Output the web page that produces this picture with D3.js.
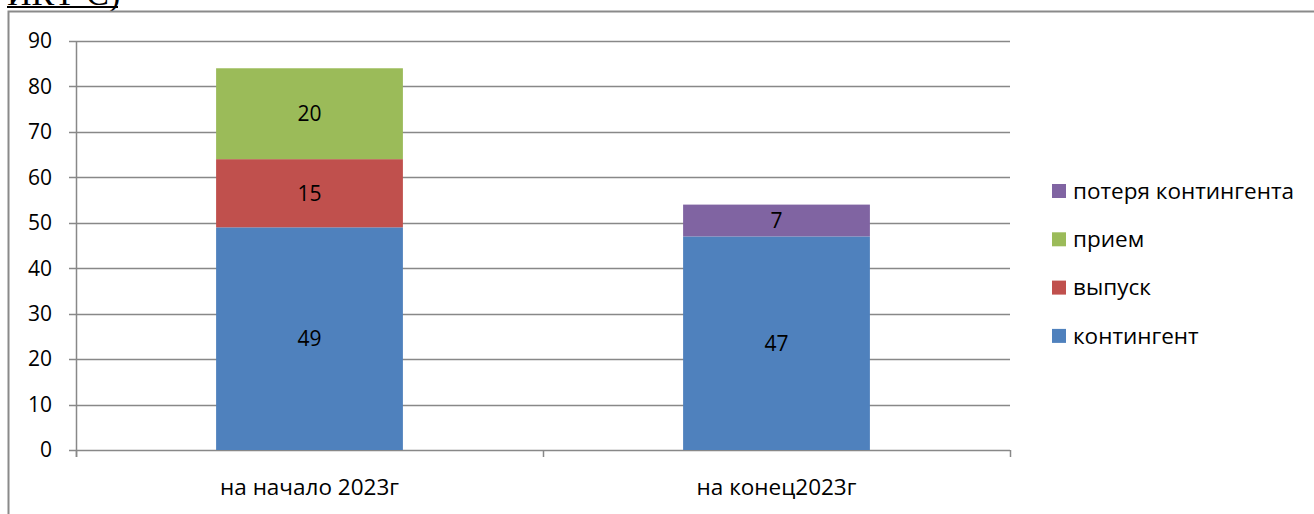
<!DOCTYPE html>
<html>
<head>
<meta charset="utf-8">
<script src="https://cdn.jsdelivr.net/npm/d3@7"></script>
<style>
  body { margin: 0; background: #fff; }
  svg text { font-family: "Open Sans", "Liberation Sans", sans-serif; }
</style>
</head>
<body>
<svg id="chart" width="1314" height="514"></svg>
<script>
// categories and series
const categories = ["на начало 2023г", "на конец2023г"];
const seriesNames = ["контингент", "выпуск", "прием", "потеря контингента"];
const kontingent = [49, 47];
const vypusk = [15, 0];
const priem = [20, 0];
const poterya = [0, 7];
const yTicks = [0, 10, 20, 30, 40, 50, 60, 70, 80, 90];

const colors = ["#4F81BD", "#C0504D", "#9BBB59", "#8064A2"];

const svg = d3.select("#chart");

// chart area
const margin = {left: 76, right: 304, top: 41, bottom: 64};
const width = 1314 - margin.left - margin.right,
      height = 514 - margin.top - margin.bottom;

// cut-off heading from the document above
svg.append("text")
  .attr("x", 7)
  .attr("y", 5)
  .style("font-family", "'Liberation Serif', serif")
  .attr("font-size", 34)
  .text("ИКТ-С)");
svg.append("line")
  .attr("x1", 7).attr("x2", 118)
  .attr("y1", 7).attr("y2", 7)
  .attr("stroke", "#000").attr("stroke-width", 2);

// outer frame
svg.append("path")
  .attr("d", "M8.5,514 L8.5,11.5 L1314,11.5")
  .attr("fill", "none")
  .attr("stroke", "#8a8a8a")
  .attr("stroke-width", 2);

const table = categories.map((c, i) => ({
  cat: c,
  "контингент": kontingent[i],
  "выпуск": vypusk[i],
  "прием": priem[i],
  "потеря контингента": poterya[i]
}));

const stacked = d3.stack().keys(seriesNames)(table);

const x = d3.scaleBand()
  .domain(categories)
  .range([0, width])
  .paddingInner(0.6)
  .paddingOuter(0.3);

const y = d3.scaleLinear()
  .domain([0, 90])
  .range([height, 0]);

const color = d3.scaleOrdinal().domain(seriesNames).range(colors);

const g = svg.append("g")
  .attr("transform", "translate(" + margin.left + "," + margin.top + ")");

// grid lines
g.selectAll(".grid")
  .data(yTicks)
  .join("line")
  .attr("x1", -7)
  .attr("x2", width)
  .attr("y1", d => Math.round(y(d)) + 0.5)
  .attr("y2", d => Math.round(y(d)) + 0.5)
  .attr("stroke", "#888")
  .attr("stroke-width", 1.5);

// y axis line
g.append("line")
  .attr("x1", 0.5).attr("x2", 0.5)
  .attr("y1", y(90)).attr("y2", height + 7)
  .attr("stroke", "#888").attr("stroke-width", 1.5);

// x axis ticks at band edges
const edges = [0, width / 2, width];
g.selectAll(".xtick")
  .data(edges)
  .join("line")
  .attr("x1", d => Math.round(d) + 0.5)
  .attr("x2", d => Math.round(d) + 0.5)
  .attr("y1", height)
  .attr("y2", height + 7)
  .attr("stroke", "#888").attr("stroke-width", 1.5);

// y labels
g.selectAll(".ylab")
  .data(yTicks)
  .join("text")
  .attr("x", -24)
  .attr("y", d => y(d))
  .attr("dy", "0.35em")
  .attr("text-anchor", "end")
  .attr("font-size", 21)
  .text(d => d);

// x labels
g.selectAll(".xlab")
  .data(categories)
  .join("text")
  .attr("x", d => x(d) + x.bandwidth() / 2)
  .attr("y", height + 37)
  .attr("dy", "0.35em")
  .attr("text-anchor", "middle")
  .attr("font-size", 22.5)
  .text(d => d);

// bars
const layers = g.selectAll(".layer")
  .data(stacked)
  .join("g")
  .attr("fill", d => color(d.key));

layers.selectAll("rect")
  .data(d => d.filter(p => p[1] - p[0] > 0))
  .join("rect")
  .attr("x", d => x(d.data.cat))
  .attr("width", x.bandwidth())
  .attr("y", d => y(d[1]))
  .attr("height", d => y(d[0]) - y(d[1]));

// value labels
layers.selectAll("text")
  .data(d => d.filter(p => p[1] - p[0] > 0))
  .join("text")
  .attr("x", d => x(d.data.cat) + x.bandwidth() / 2)
  .attr("y", d => y((d[0] + d[1]) / 2))
  .attr("dy", "0.35em")
  .attr("text-anchor", "middle")
  .attr("font-size", 21)
  .attr("fill", "#000")
  .text(d => d[1] - d[0]);

// legend (reverse order)
const legendItems = seriesNames.slice().reverse();
const legend = svg.append("g")
  .attr("transform", "translate(1052,191)");

legend.selectAll("rect")
  .data(legendItems)
  .join("rect")
  .attr("x", 0)
  .attr("y", (d, i) => i * 48.3 - 7)
  .attr("width", 14)
  .attr("height", 14)
  .attr("fill", d => color(d));

legend.selectAll("text")
  .data(legendItems)
  .join("text")
  .attr("x", 21)
  .attr("y", (d, i) => i * 48.3)
  .attr("dy", "0.35em")
  .attr("font-size", 22.5)
  .text(d => d);
</script>
</body>
</html>
